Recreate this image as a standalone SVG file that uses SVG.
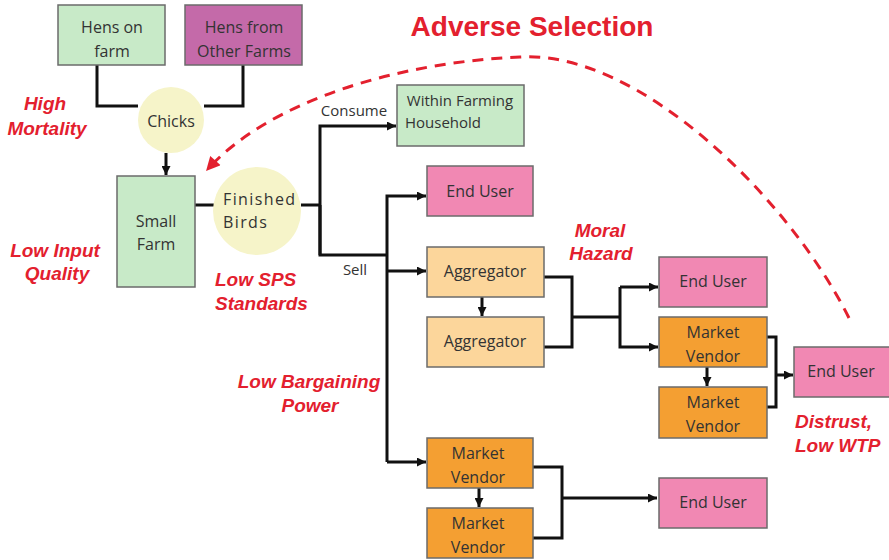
<svg xmlns="http://www.w3.org/2000/svg" width="889" height="560" viewBox="0 0 889 560">
<style>
.box{stroke:#6b6b6b;stroke-width:1.5}
.g{fill:#c8eac8}
.p{fill:#c46aa9}
.k{fill:#f188b3}
.a{fill:#fcd69b}
.o{fill:#f49f32}
.c{fill:#f6f4c9}
.t{font-family:"Open Sans","Liberation Sans",sans-serif;font-size:16px;fill:#333;text-anchor:middle}
.s{font-size:15px}
.r{font-family:"Liberation Sans",Arial,sans-serif;font-weight:bold;font-style:italic;font-size:19px;fill:#e3202e}
.ln{fill:none;stroke:#111;stroke-width:3}
</style>
<defs>
<marker id="ah" viewBox="0 0 10 10" refX="10" refY="5" markerWidth="10" markerHeight="9" markerUnits="userSpaceOnUse" orient="auto"><path d="M0,0 L10,5 L0,10 z" fill="#111"/></marker>
<marker id="rh" viewBox="0 0 10 10" refX="9" refY="5" markerWidth="16" markerHeight="14" markerUnits="userSpaceOnUse" orient="auto"><path d="M0,0 L10,5 L0,10 z" fill="#e3202e"/></marker>
</defs>

<g id="connectors">
<path class="ln" d="M97,65 V106 H138"/>
<path class="ln" d="M243,65 V106 H204"/>
<path class="ln" d="M166,153 V175" marker-end="url(#ah)"/>
<path class="ln" d="M195,205 H214"/>
<path class="ln" d="M301,205 H320"/>
<path class="ln" d="M320,255 V126 H396" marker-end="url(#ah)"/>
<path class="ln" d="M320,205 V255 H387"/>
<path class="ln" d="M387,462 V196 H426" marker-end="url(#ah)"/>
<path class="ln" d="M387,271 H426" marker-end="url(#ah)"/>
<path class="ln" d="M387,462 H426" marker-end="url(#ah)"/>
<path class="ln" d="M482,297 V316" marker-end="url(#ah)"/>
<path class="ln" d="M544,277 H572 V347 H544"/>
<path class="ln" d="M572,317 H620"/>
<path class="ln" d="M620,287 V347 H658" marker-end="url(#ah)"/>
<path class="ln" d="M620,287 H658" marker-end="url(#ah)"/>
<path class="ln" d="M707,367 V386" marker-end="url(#ah)"/>
<path class="ln" d="M767,337 H776 V407 H767"/>
<path class="ln" d="M776,375 H793" marker-end="url(#ah)"/>
<path class="ln" d="M479,488 V507" marker-end="url(#ah)"/>
<path class="ln" d="M533,467 H562 V538 H533"/>
<path class="ln" d="M562,498 H657" marker-end="url(#ah)"/>
<path d="M849,318 C790,200 640,50 520,57 C400,62 270,100 207,170" fill="none" stroke="#e3202e" stroke-width="3" stroke-dasharray="11,8" marker-end="url(#rh)"/>
</g>

<g id="hens-on-farm"><rect class="box g" x="58" y="5" width="107" height="60"/><text class="t" x="112" y="33">Hens on</text><text class="t" x="112" y="57">farm</text></g>
<g id="hens-other"><rect class="box p" x="185" y="5" width="117" height="60"/><text class="t" x="244" y="33">Hens from</text><text class="t" x="244" y="57">Other Farms</text></g>
<g id="chicks"><circle class="c" cx="171" cy="120" r="33"/><text class="t" x="171" y="127">Chicks</text></g>
<g id="small-farm"><rect class="box g" x="117" y="176" width="78" height="111"/><text class="t" x="156" y="227">Small</text><text class="t" x="156" y="250">Farm</text></g>
<g id="finished-birds"><circle class="c" cx="257" cy="211" r="44"/><text class="t" x="223" y="205" style="text-anchor:start;letter-spacing:1.4px">Finished</text><text class="t" x="223" y="228" style="text-anchor:start;letter-spacing:1.4px">Birds</text></g>
<g id="within-household"><rect class="box g" x="397" y="85" width="127" height="61"/><text class="t s" x="460" y="106">Within Farming</text><text class="t s" x="443" y="128">Household</text></g>
<g id="end-user-1"><rect class="box k" x="427" y="166" width="106" height="50"/><text class="t" x="480" y="197">End User</text></g>
<g id="aggregator-1"><rect class="box a" x="427" y="247" width="117" height="50"/><text class="t" x="485" y="277">Aggregator</text></g>
<g id="aggregator-2"><rect class="box a" x="427" y="317" width="117" height="50"/><text class="t" x="485" y="347">Aggregator</text></g>
<g id="end-user-2"><rect class="box k" x="659" y="257" width="108" height="50"/><text class="t" x="713" y="287">End User</text></g>
<g id="market-vendor-1"><rect class="box o" x="659" y="317" width="108" height="50"/><text class="t" x="713" y="338">Market</text><text class="t" x="713" y="362">Vendor</text></g>
<g id="market-vendor-2"><rect class="box o" x="659" y="387" width="108" height="51"/><text class="t" x="713" y="408">Market</text><text class="t" x="713" y="432">Vendor</text></g>
<g id="end-user-3"><rect class="box k" x="794" y="347" width="96" height="50"/><text class="t" x="841" y="377">End User</text></g>
<g id="market-vendor-3"><rect class="box o" x="427" y="438" width="106" height="50"/><text class="t" x="478" y="459">Market</text><text class="t" x="478" y="483">Vendor</text></g>
<g id="market-vendor-4"><rect class="box o" x="427" y="508" width="106" height="50"/><text class="t" x="478" y="529">Market</text><text class="t" x="478" y="553">Vendor</text></g>
<g id="end-user-4"><rect class="box k" x="659" y="478" width="108" height="50"/><text class="t" x="713" y="508">End User</text></g>

<g id="labels">
<text class="t s" x="354" y="116">Consume</text>
<text class="t s" x="355" y="275">Sell</text>
<text x="532" y="36" style="font-family:'Liberation Sans',Arial,sans-serif;font-weight:bold;font-size:28px;fill:#e3202e;text-anchor:middle">Adverse Selection</text>
<text class="r" x="45" y="110" text-anchor="middle">High</text>
<text class="r" x="47" y="135" text-anchor="middle">Mortality</text>
<text class="r" x="55" y="257" text-anchor="middle">Low Input</text>
<text class="r" x="57" y="280" text-anchor="middle">Quality</text>
<text class="r" x="215" y="286">Low SPS</text>
<text class="r" x="215" y="310">Standards</text>
<text class="r" x="600" y="237" text-anchor="middle">Moral</text>
<text class="r" x="601" y="260" text-anchor="middle">Hazard</text>
<text class="r" x="309" y="388" text-anchor="middle">Low Bargaining</text>
<text class="r" x="310" y="412" text-anchor="middle">Power</text>
<text class="r" x="795" y="428">Distrust,</text>
<text class="r" x="795" y="452">Low WTP</text>
</g>
</svg>
